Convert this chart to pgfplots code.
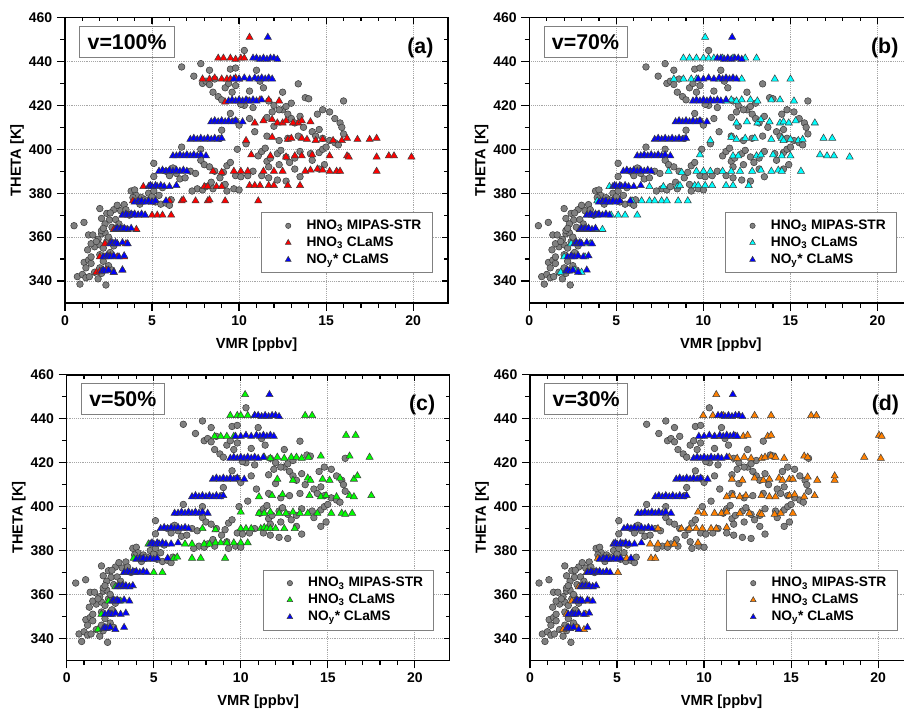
\documentclass[border=0pt]{standalone}
\usepackage{pgfplots}
\pgfplotsset{compat=1.18}
\usepackage{pgfplotstable}
\usepackage{fontspec}
\setmainfont{Liberation Sans}

\definecolor{mgray}{RGB}{128,128,128}
\definecolor{mgrayd}{RGB}{60,60,60}
\definecolor{cred}{RGB}{255,0,0}
\definecolor{cblue}{RGB}{0,0,255}
\definecolor{ccyan}{RGB}{0,255,255}
\definecolor{cgreen}{RGB}{0,255,0}
\definecolor{corange}{RGB}{255,128,0}

% MIPAS-STR HNO3 (same in all panels)
\pgfplotstableread{
x y
0.71 342
0.86 338.6
1.00 343
1.20 341.5
1.40 342
1.10 348.5
1.35 349.5
1.50 348
1.20 346
1.90 341
2.10 343.5
2.35 338.2
2.00 346
2.50 347
2.70 345
1.70 344
1.50 351
1.30 354.2
2.20 349
1.70 355.6
1.50 357
2.00 356.5
2.20 355
1.90 359
2.10 361.5
2.30 362
1.35 361
1.60 361
2.40 358
2.00 352
2.60 353
2.80 356
2.10 363
1.80 358
2.50 360
0.52 365.2
1.09 366.7
2.00 373
2.10 368.5
2.40 370.8
2.55 367.8
2.30 366
2.70 364.5
2.20 364
2.90 368
3.10 366
2.80 372.5
3.00 374.5
3.20 372
3.40 374.8
3.50 372.5
3.70 370
2.60 371
3.80 381
4.00 381.5
4.10 379
3.90 378
4.40 378
4.60 377
4.80 380
5.00 378.5
5.20 376
5.40 379
5.50 375
5.80 375.5
6.00 374.5
6.10 377
4.30 375
5.10 381
5.60 382.5
5.10 387.6
5.10 393.6
5.80 390
6.20 391.5
6.40 389
6.60 386.5
6.90 387
7.20 390
7.50 389
7.60 382
7.30 381
7.90 381.5
8.10 383
8.40 385
8.50 382
6.00 388
6.70 401
7.80 400
7.80 395
8.00 393
8.30 392
8.60 390
8.90 387
9.10 389.5
9.30 392.5
9.50 394
9.20 384
9.30 381
9.70 382
10.00 381.5
9.80 388
10.10 387.5
10.50 388
10.80 390
11.30 388
11.70 387
12.20 386
12.70 385.5
13.50 387.5
9.90 400
10.40 402.5
11.10 397
11.30 399
11.50 400.5
11.60 394.5
11.80 396
12.20 398
12.40 399.5
12.70 396.5
12.30 393
12.90 394
13.20 396
13.50 399
14.10 398
14.20 395
14.60 398.5
14.80 400
15.00 401
14.90 393
14.60 391
13.20 391
11.70 392
8.90 405
9.00 408.7
9.50 416.3
9.80 413
10.00 411
10.60 414
10.90 408
11.60 414.5
11.90 417
11.60 406
12.30 404
12.00 410.5
12.50 418
12.80 416
13.00 414
13.20 412
13.50 415
13.70 410
14.20 408
14.40 406
14.60 409
14.80 405
15.20 404
15.50 403
15.70 402
16.00 407
14.50 416
14.80 418
15.20 417
15.50 414
15.80 412
15.90 410
13.40 406
12.80 405
6.70 437.5
7.40 433.3
7.80 439
7.90 430
8.10 431
8.30 436
8.50 426
8.60 432
8.80 424
9.00 422.5
9.20 428
9.40 430
9.50 436.5
9.80 437
9.60 426
9.80 429
10.30 445
10.60 426.5
11.00 436
11.20 431
11.40 428
10.30 420
10.80 419
11.70 422
12.00 420
12.30 418
12.50 426
12.70 419.5
13.00 421
13.40 429.8
13.80 423.5
14.00 423
16.00 422
8.30 429.5
10.10 420.5
}\tabgray

% NOy* CLaMS (same in all panels)
\pgfplotstableread{
x y
2.1 344.5
2.2 345
2.3 344.5
2.5 345
2.8 344
3.3 345
2.2 351
2.4 351.5
2.5 351
2.6 351
2.8 351.5
3.1 351
3.4 351.5
2.6 357
2.7 357.5
2.8 357
2.9 357.5
3.0 357
3.3 357.5
3.6 357
2.9 363.5
3.0 364
3.1 363.5
3.2 364
3.3 363.5
3.4 364
3.6 363.5
3.8 364
3.3 370
3.5 370.5
3.6 370
3.8 370.5
3.9 370
4.0 370.5
4.2 370
4.4 370.5
4.6 370
4.0 376
4.2 376.5
4.3 376
4.4 376.5
4.6 376
4.8 376.5
5.0 376
5.2 376.5
5.8 376.5
4.8 383
4.9 383.5
5.0 383
5.2 383.5
5.3 383
5.5 383.5
5.7 383
6.0 383
6.4 383.5
5.4 390
5.6 390.5
5.8 390
6.0 390.5
6.2 390
6.4 390.5
6.6 390
6.8 390.5
7.0 390
6.2 397
6.4 397
6.6 397.5
6.8 397
7.0 397.5
7.2 397
7.4 397.5
7.6 397
7.8 397.5
8.1 397
7.2 404.5
7.4 405
7.6 404.5
7.8 405
8.0 404.5
8.2 405
8.4 404.5
8.6 405
8.8 404.5
9.0 405
8.4 412.5
8.6 413
8.8 412.5
9.0 413
9.2 412.5
9.4 413
9.6 412.5
9.8 413
10.2 412.5
9.4 422
9.6 422.5
9.8 422
10.0 422.5
10.2 422
10.4 422.5
10.6 422
10.8 422.5
11.0 422
11.3 422.5
9.7 432
10.0 432
10.3 432.5
10.6 432
10.9 432.5
11.1 432
11.3 432.5
11.5 432
11.7 432.5
11.9 432
10.8 441.5
11.0 441.5
11.2 441
11.4 441.5
11.6 441
11.8 441.5
12.0 441.5
12.2 441
11.65 451
}\tabblue

% HNO3 CLaMS, v=100%
\pgfplotstableread{
x y
1.8 344
2.0 344.5
2.4 345
2.8 344
3.3 345
2.0 351
2.3 351
2.6 351.5
3.0 351
3.4 351
2.3 357
2.6 357.5
3.0 357
3.5 357
2.8 363.5
3.0 364
3.5 363.5
4.1 363.5
3.3 370
3.7 370
4.2 370
4.6 370
5.0 370
5.3 370
5.6 370
6.1 370
3.9 376.5
4.4 376
5.0 376
6.0 376.5
6.7 376.5
6.8 377
7.5 376.5
8.2 376.5
8.3 377
9.2 376.5
11.1 376.5
4.5 383
5.0 383
8.0 383
8.2 383
8.7 383
9.0 383
10.6 383.5
10.9 383.5
11.2 383.5
11.7 383.5
12.0 383.5
12.8 383.5
13.5 383.5
8.5 390
9.0 389.5
9.7 390
10.1 390
10.5 390
11.4 390
12.0 390
12.5 390
13.8 390
14.1 390.5
14.5 391
14.8 390.5
15.2 390
15.6 390
15.8 390
17.9 390
10.7 397.5
11.8 397
12.7 396.5
13.2 397
13.6 397
14.2 397.5
15.2 397
16.2 397
16.3 396.5
17.9 396.5
18.6 397
18.9 397
19.9 396.5
10.4 404
11.9 405.5
12.8 404.5
13.0 405
13.6 405
13.9 404.5
14.4 404
14.8 404.5
15.4 404
15.9 404
16.2 405
16.8 404.5
17.5 404.5
17.9 405
10.9 412
11.4 413
11.9 413.5
12.2 412
12.5 412
12.7 413
13.1 412
13.4 412
13.6 413
14.1 412.5
9.2 421.5
9.6 422
10.0 422
10.5 422
11.2 422.5
11.7 422.5
12.3 422
7.9 432
8.3 432
8.6 432.5
9.0 432
9.3 432
9.5 432
9.8 432.5
10.0 432
8.8 441.5
9.1 441.5
9.5 441.5
9.8 441
10.1 441.5
10.3 441.5
10.6 451
}\tabA

% HNO3 CLaMS, v=70%
\pgfplotstableread{
x y
1.8 344
2.2 344.5
2.6 345
3.0 344
2.0 351
2.4 351
2.8 351.5
3.2 351
2.4 357
2.7 357.5
3.0 357
3.5 357
3.0 363.5
3.4 364
3.8 363.5
4.2 363.5
3.3 370
3.8 370
4.7 370
5.1 370
5.5 370
6.2 370
3.9 376.5
4.6 376
5.9 376.5
6.45 376.5
6.9 376.5
7.2 376.5
7.6 376.5
7.9 376.5
8.55 376.5
9.1 376.5
4.6 383
5.2 383
6.9 383
7.7 383
8.5 383
8.65 383.5
9.5 383.5
9.7 383.5
10.1 383.5
10.5 383.5
11.3 383.5
11.7 383.5
12.6 383.5
8.0 390
8.75 389.5
9.6 390
10.0 390
10.4 390
11.1 390
11.6 390
12.1 390
12.8 390
13.3 390.5
13.9 390
14.3 390.5
14.5 390
15.6 390
9.8 397.5
11.7 397
12.0 397
13.05 397
13.3 397.5
14.0 397.5
14.5 397
15.0 397
16.7 397.5
17.1 397
17.5 397
18.4 396.5
10.4 404
11.6 405.5
11.9 404.5
12.4 405
12.95 405
13.9 404.5
14.5 405
14.6 404
15.0 404.5
15.45 404
15.7 404.5
16.9 405
17.4 405
11.9 412
12.5 412.5
13.1 412
13.3 413.5
13.8 412.5
14.4 412
14.6 412.5
14.9 412
15.3 413
16.4 412
11.3 422
11.6 422.5
11.9 422
12.2 422.5
12.7 422.5
13.1 422
13.9 422.5
14.4 422.5
15.2 422
8.3 432
8.85 432
9.3 432
9.6 432
10.9 432
12.2 432
14.1 432
15.0 432
8.85 441.5
9.2 441.5
9.6 441.5
10.0 441.5
10.3 441.5
10.6 441.5
11.1 441.5
11.7 441.5
12.4 441.5
13.05 441.5
10.1 451
}\tabB

% HNO3 CLaMS, v=50%
\pgfplotstableread{
x y
1.8 344
2.2 344.5
2.5 345
2.0 351
2.4 351
2.8 351.5
2.4 357
2.7 357.5
3.1 357
2.8 363.5
3.2 364
3.6 363.5
3.3 370
3.8 370
5.0 370
5.5 370
3.85 376.5
4.4 376
6.15 376.5
6.35 377
7.2 376.5
7.7 376.5
9.1 376.5
4.7 383
5.3 383
6.8 383
7.2 383
7.9 383
8.2 383
8.55 383.5
8.85 383.5
9.2 383.5
9.6 383.5
10.0 383.5
10.4 383.5
7.8 390
8.55 389.5
10.0 390
10.3 390
10.6 390
11.15 390
11.35 390.5
11.5 390
11.7 390
12.0 390
12.5 390
13.1 390
10.0 397.5
11.05 397
11.35 397
11.7 397.5
12.2 397
12.6 397
13.0 397.5
13.4 397
13.85 397
14.4 397
15.2 397
15.8 397
16.0 396.5
16.4 397
11.05 404.5
11.8 405
12.4 405.5
13.95 405
14.6 404.5
14.9 405
15.5 404.5
16.25 405
16.5 404.5
17.5 405
12.1 412.5
13.0 412
13.85 413
14.0 412
14.7 412.5
15.1 412
15.7 413
16.5 412.5
16.7 414
11.35 422.5
11.7 422
12.1 422.5
12.5 422
12.9 422.5
13.2 422.5
13.5 422
13.9 422.5
14.6 423
16.25 423
17.4 422.5
8.5 432
8.85 432
9.2 432
9.6 432
16.05 432.5
16.6 432.5
9.4 441.5
9.8 441.5
10.0 441.5
10.4 441.5
10.8 441.5
13.7 441.5
14.1 441.5
10.25 451
}\tabC

% HNO3 CLaMS, v=30%
\pgfplotstableread{
x y
1.9 344
2.3 344.5
2.7 345
3.1 344
2.1 351
2.4 351
2.8 351.5
3.2 351
2.4 357
2.7 357.5
3.0 357
3.4 357
2.8 363.5
3.2 364
3.6 363.5
3.25 370
3.7 370
4.4 370
5.05 370
3.9 376.5
4.5 376
5.55 376.5
6.95 376.5
7.2 376.5
4.8 383
5.4 383
6.9 383
7.35 383
7.9 383
8.3 383
9.65 383.5
7.35 390
8.7 390
9.15 390
9.55 390
9.9 390
10.4 390
10.7 390
11.3 390.5
9.65 397.5
10.0 397
10.6 397
11.0 397
11.3 397.5
12.05 397
12.6 397
13.2 397
13.3 396.5
14.05 396.5
14.4 397
15.1 397
11.3 404.5
11.65 405
12.05 404.5
12.4 405
13.3 405
13.75 404.5
14.1 404.5
14.9 405
15.2 405.5
15.75 404.5
16.35 405
11.6 412.5
12.2 412
12.9 413
13.4 412
13.75 412.5
14.3 413
14.5 412
14.9 412.5
15.1 412.5
15.95 413.5
16.5 412
17.5 412
17.5 414
11.45 422.5
11.9 422
12.3 422.5
12.7 422
13.3 422
13.5 422.5
13.85 423
14.1 422.5
14.6 422
15.75 423
15.95 422.5
19.2 422.5
20.15 422
10.6 432
10.9 432
11.3 432
11.8 432
12.25 432
12.5 432.5
13.65 432
13.85 432.5
20.05 432.5
20.2 432
9.95 441.5
10.5 441.5
11.1 441.5
12.0 441.5
12.9 441.5
13.85 441.5
16.15 441.5
16.45 441.5
10.7 451
}\tabD

\pgfplotsset{
  panel/.style={
    width=287.25pt, height=214.1pt, scale only axis,
    anchor=south west,
    xmin=0, xmax=22, ymin=330, ymax=460,
    xtick={0,5,10,15,20}, ytick={340,360,...,460},
    minor x tick num=4, minor y tick num=1,
    grid=major, grid style={densely dotted, black!35, line width=0.6pt},
    axis line style={line width=1pt},
    every tick/.style={black, line width=0.9pt},
    major tick length=6pt, minor tick length=3.5pt,
    tick align=outside, xtick pos=left, ytick pos=left,
    tick label style={font=\fontsize{10.5}{12}\selectfont\bfseries},
    /pgf/number format/assume math mode=true,
    xlabel={VMR [ppbv]}, ylabel={THETA [K]},
    label style={font=\fontsize{11}{13}\selectfont\bfseries},
    xlabel style={at={(axis description cs:0.5,-0.145)}, anchor=center},
    ylabel style={at={(axis description cs:-0.125,0.5)}, anchor=center},
    legend style={at={(0.512,0.318)}, anchor=north west,
      draw=black!50, line width=0.7pt,
      font=\fontsize{10.3}{12.5}\selectfont\bfseries,
      inner xsep=6pt, inner ysep=3.5pt},
    legend cell align=left,
    legend image code/.code={%
      \path (0cm,0cm) (0.88cm,0cm);
      \draw[#1, only marks, every mark/.append style={scale=0.8}] plot coordinates {(0.48cm,0cm)};},
  },
  mirror/.style={
    width=287.25pt, height=214.1pt, scale only axis,
    anchor=south west,
    xmin=0, xmax=22, ymin=330, ymax=460,
    xtick={0,5,10,15,20}, ytick={340,360,...,460},
    minor x tick num=4, minor y tick num=1,
    axis line style={line width=1pt},
    every tick/.style={black, line width=0.9pt},
    major tick length=4.5pt, minor tick length=2.8pt,
    tick align=inside, xtick pos=right, ytick pos=right,
    xticklabels={}, yticklabels={},
  },
  graymk/.style={only marks, mark=*, mark size=2.5pt,
    mark options={fill=mgray, draw=mgrayd, line width=0.4pt}},
}

\newcommand{\panel}[6]{%
  \begin{axis}[panel, at={(#1,#2)}]
    \addplot[graymk] table {\tabgray};
    \addplot[only marks, mark=triangle*, mark size=3.1pt,
      mark options={fill=#4, draw=black!75, line width=0.4pt}] table {#3};
    \addplot[only marks, mark=triangle*, mark size=3.1pt,
      mark options={fill=cblue, draw=black!75, line width=0.4pt}] table {\tabblue};
    \legend{HNO\textsubscript{3} MIPAS-STR, HNO\textsubscript{3} CLaMS, NO\textsubscript{y}* CLaMS}
    \node[draw=black!50, line width=0.7pt, anchor=north west,
      font=\fontsize{16}{18}\selectfont\bfseries, inner xsep=6pt,
      text height=11.6pt, text depth=0pt, inner ysep=6pt]
      at (rel axis cs:0.037,0.972) {#5};
    \node[font=\fontsize{16}{18}\selectfont\bfseries] at (rel axis cs:0.928,0.895) {#6};
  \end{axis}
  \begin{axis}[mirror, at={(#1,#2)}]
  \end{axis}
}

\begin{document}
\begin{tikzpicture}
\panel{48.75pt}{306pt}{\tabA}{cred}{v=100\%}{(a)}
\panel{397pt}{306pt}{\tabB}{ccyan}{v=70\%}{(b)}
\panel{50pt}{38pt}{\tabC}{cgreen}{v=50\%}{(c)}
\panel{397.5pt}{38pt}{\tabD}{corange}{v=30\%}{(d)}
\pgfresetboundingbox
\useasboundingbox (0,0) rectangle (678pt,533.25pt);
\end{tikzpicture}
\end{document}
